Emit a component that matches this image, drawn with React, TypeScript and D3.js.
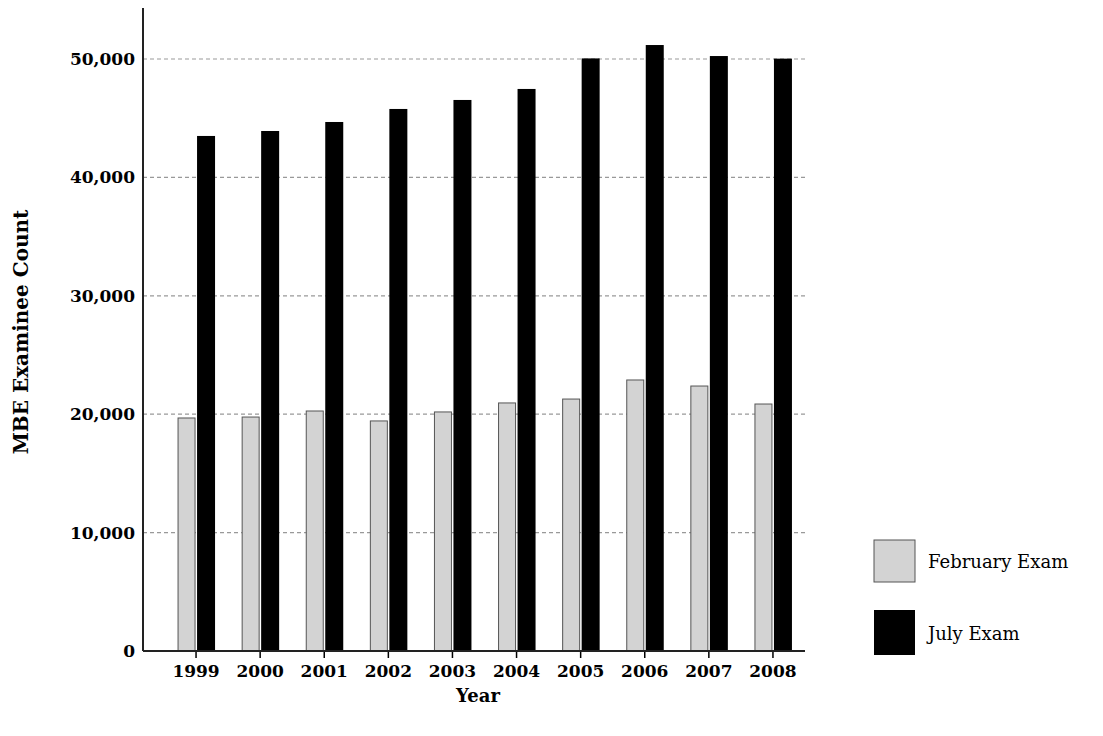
import React from 'react'
import * as d3 from 'd3'

const years = ['1999', '2000', '2001', '2002', '2003', '2004', '2005', '2006', '2007', '2008']
const february = [19680, 19760, 20270, 19430, 20190, 20950, 21280, 22890, 22380, 20860]
const july = [43500, 43920, 44680, 45780, 46540, 47470, 50050, 51180, 50250, 50030]
const yTicks = [0, 10000, 20000, 30000, 40000, 50000]

const font = '"DejaVu Serif", "Liberation Serif", serif'

const App = () => {
    const x = d3.scaleBand<string>().domain(years).range([164, 805])
    const y = d3.scaleLinear().domain([0, 50000]).range([651, 59])
    const fmt = d3.format(',')
    const bw = 17

    return (
        <svg width={1103} height={736} style={{ position: 'absolute', left: 0, top: 0 }} fontFamily={font}>
            {yTicks.filter(t => t > 0).map(t => (
                <line key={t} x1={143} x2={805} y1={y(t)} y2={y(t)} stroke="#999" strokeDasharray="4,3" strokeWidth={1.2} />
            ))}
            {years.map((yr, i) => {
                const c = x(yr)! + x.bandwidth() / 2
                return (
                    <g key={yr}>
                        <rect x={c - bw - 1} y={y(february[i])} width={bw} height={y(0) - y(february[i])} fill="#d3d3d3" stroke="#555" strokeWidth={1} />
                        <rect x={c + 1} y={y(july[i])} width={bw + 1} height={y(0) - y(july[i])} fill="#000" />
                        <line x1={c} x2={c} y1={y(0)} y2={y(0) + 7} stroke="#000" strokeWidth={1.5} />
                        <text x={c} y={y(0) + 26} textAnchor="middle" fontWeight="bold" fontSize={17}>{yr}</text>
                    </g>
                )
            })}
            <line x1={143} x2={143} y1={8} y2={y(0)} stroke="#222" strokeWidth={2} />
            <line x1={143} x2={805} y1={y(0)} y2={y(0)} stroke="#222" strokeWidth={2} />
            {yTicks.map(t => (
                <text key={t} x={135} y={y(t) + 6} textAnchor="end" fontWeight="bold" fontSize={17}>{fmt(t)}</text>
            ))}
            <text x={478} y={702} textAnchor="middle" fontWeight="bold" fontSize={18}>Year</text>
            <text transform="translate(28,332) rotate(-90)" textAnchor="middle" fontWeight="bold" fontSize={20}>MBE Examinee Count</text>
            <rect x={874} y={540} width={41} height={42} fill="#d3d3d3" stroke="#555" strokeWidth={1} />
            <text x={928} y={568} fontSize={18}>February Exam</text>
            <rect x={874} y={610} width={41} height={45} fill="#000" />
            <text x={928} y={640} fontSize={18}>July Exam</text>
        </svg>
    )
}

export default App
